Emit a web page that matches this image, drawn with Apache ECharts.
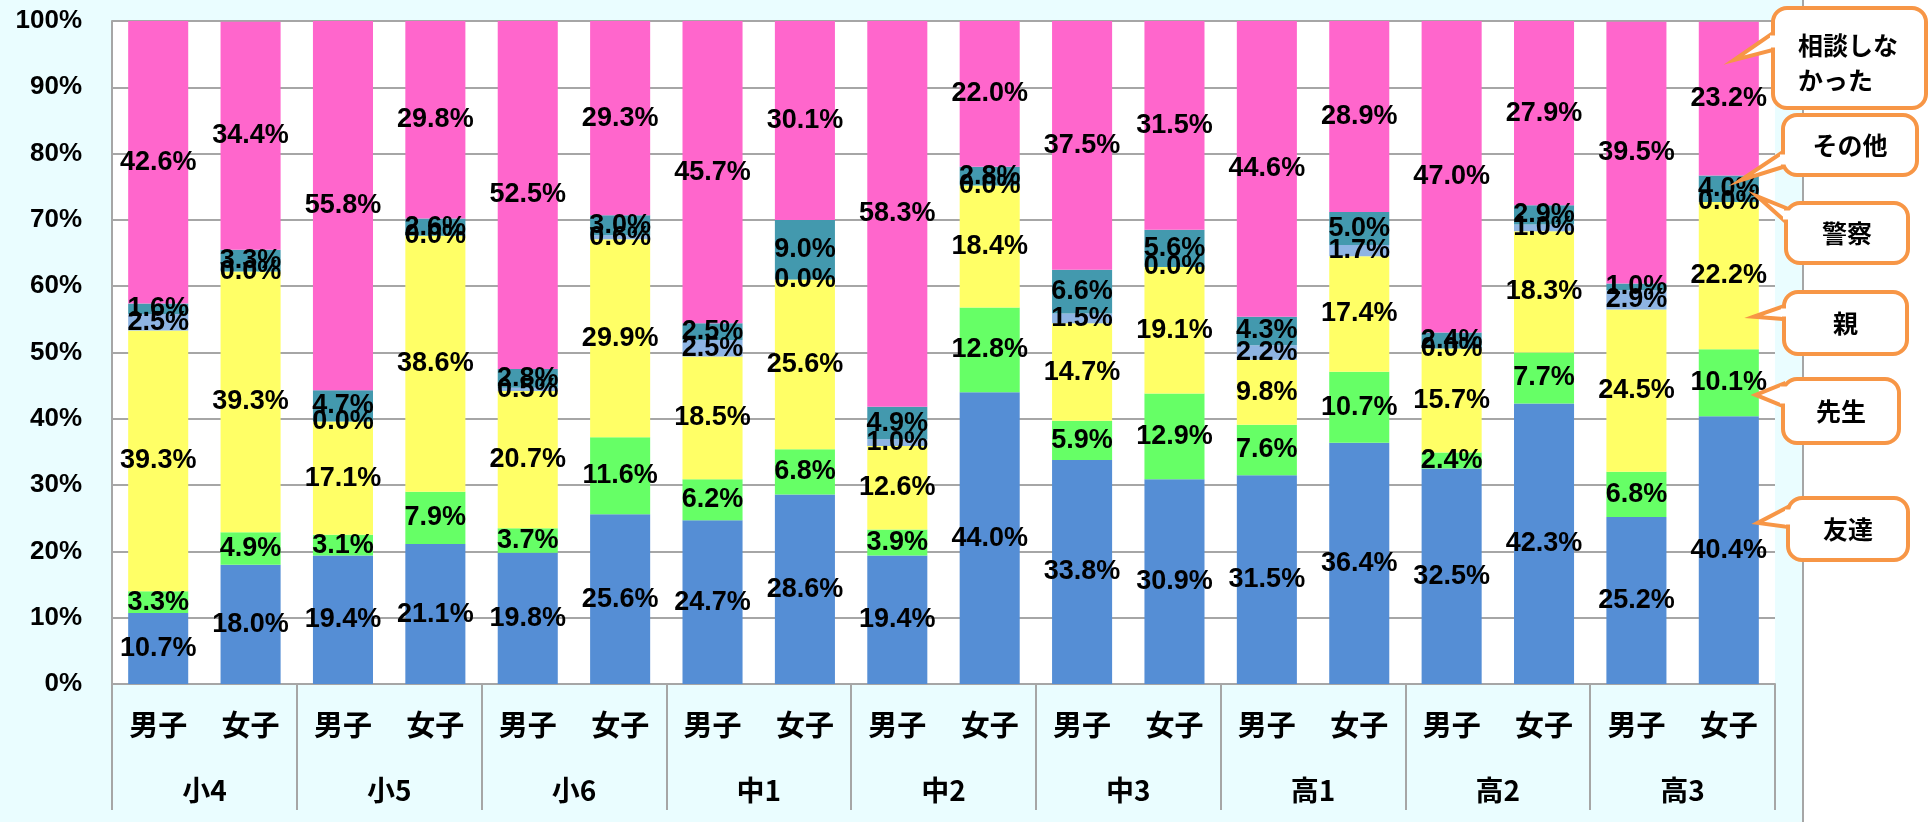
<!DOCTYPE html>
<html><head><meta charset="utf-8">
<script src="https://cdn.jsdelivr.net/npm/echarts@6/dist/echarts.min.js"></script>
<style>
html,body{margin:0;padding:0;background:#fff;}
#c{width:1930px;height:822px;background:linear-gradient(to right,#EAFDFF 0,#EAFDFF 1802px,#A6A6A6 1802px,#A6A6A6 1804px,#fff 1804px);}
</style></head><body><div id="c"></div>
<script>
// ---- data ----
const categories = ['男子','女子','男子','女子','男子','女子','男子','女子','男子','女子','男子','女子','男子','女子','男子','女子','男子','女子'];
const groups = ['小4','小5','小6','中1','中2','中3','高1','高2','高3'];
const yTicks = [0,10,20,30,40,50,60,70,80,90,100];
const seriesNames = ['友達','先生','親','警察','その他','相談しなかった'];
const friends  = [10.7,18.0,19.4,21.1,19.8,25.6,24.7,28.6,19.4,44.0,33.8,30.9,31.5,36.4,32.5,42.3,25.2,40.4];
const teachers = [3.3,4.9,3.1,7.9,3.7,11.6,6.2,6.8,3.9,12.8,5.9,12.9,7.6,10.7,2.4,7.7,6.8,10.1];
const parents  = [39.3,39.3,17.1,38.6,20.7,29.9,18.5,25.6,12.6,18.4,14.7,19.1,9.8,17.4,15.7,18.3,24.5,22.2];
const police   = [2.5,0.0,0.0,0.0,0.5,0.6,2.5,0.0,1.0,0.0,1.5,0.0,2.2,1.7,0.0,1.0,2.9,0.0];
const others   = [1.6,3.3,4.7,2.6,2.8,3.0,2.5,9.0,4.9,2.8,6.6,5.6,4.3,5.0,2.4,2.9,1.0,4.0];
const noConsult= [42.6,34.4,55.8,29.8,52.5,29.3,45.7,30.1,58.3,22.0,37.5,31.5,44.6,28.9,47.0,27.9,39.5,23.2];

// ---- style ----
const colors = ['#558ED5','#66FF66','#FFFF66','#8EB4E3','#4399AE','#FF66CC'];
const gridColor = '#A6A6A6';
const numFont = 'Liberation Sans';
const cjkFont = 'Noto Sans CJK JP';

const chart = echarts.init(document.getElementById('c'), null, {renderer:'canvas'});
const allData = [friends, teachers, parents, police, others, noConsult];

const series = seriesNames.map((n,i)=>({
  name:n, type:'bar', stack:'total', data:allData[i],
  barCategoryGap:'35%',
  itemStyle:{color:colors[i]},
  label:{show:true, position:'inside', formatter:p=>p.value.toFixed(1)+'%',
    color:'#000', fontFamily:numFont, fontWeight:'bold', fontSize:27},
  emphasis:{disabled:true}
}));

chart.setOption({
  animation:false,
  backgroundColor:'transparent',
  grid:{left:112, right:155, top:21, bottom:138, show:true, backgroundColor:'#fff', borderWidth:0},
  xAxis:[
    {type:'category', data:categories, gridIndex:0,
     axisLine:{show:true, lineStyle:{color:gridColor, width:2}},
     axisTick:{show:false},
     axisLabel:{interval:0, margin:26, color:'#000', fontFamily:cjkFont, fontWeight:'bold', fontSize:29}},
    {type:'category', data:groups, gridIndex:0, position:'bottom',
     axisLine:{show:false},
     axisTick:{show:true, interval:0, length:126, lineStyle:{color:gridColor, width:2}},
     axisLabel:{interval:0, margin:92, color:'#000', fontFamily:cjkFont, fontWeight:'bold', fontSize:28}}
  ],
  yAxis:{type:'value', min:yTicks[0], max:yTicks[yTicks.length-1], interval:yTicks[1]-yTicks[0],
    axisLine:{show:true, lineStyle:{color:gridColor, width:2}},
    axisTick:{show:false},
    splitLine:{show:true, lineStyle:{color:gridColor, width:2}},
    axisLabel:{formatter:'{value}%', margin:30, color:'#000', fontFamily:numFont, fontWeight:'bold', fontSize:26}},
  series:series
});

// ---- callouts (legend-like annotations pointing at the last bar) ----
const lastIdx = categories.length-1;
const callouts = [
  {lines:['相談しな','かった'], box:[1773,8,1926,108], base:[33,50], tipV:94.1, dx:5, left:true},
  {lines:['その他'], box:[1783,115,1917,175], base:[152,167], tipV:76.0, dx:12},
  {lines:['警察'], box:[1786,203,1908,263], base:[208,222], tipV:73.5, dx:29},
  {lines:['親'], box:[1784,292,1907,354], base:[306,319], tipV:55.4, dx:25},
  {lines:['先生'], box:[1783,379,1899,443], base:[384,406], tipV:43.6, dx:27},
  {lines:['友達'], box:[1788,498,1908,560], base:[507,527], tipV:24.3, dx:29}
];
const orange = '#F79646';
const graphics = [];
callouts.forEach((c,ci)=>{
  const p = chart.convertToPixel({xAxisIndex:0, yAxisIndex:0}, [lastIdx, c.tipV]);
  const [x0,y0,x1,y1]=c.box;
  const zb = 100 + ci*5;
  graphics.push({type:'rect', z:zb, shape:{x:x0,y:y0,width:x1-x0,height:y1-y0,r:14},
    style:{fill:'#fff', stroke:orange, lineWidth:4}});
  graphics.push({type:'polygon', z:zb+1, shape:{points:[[p[0]+c.dx,p[1]],[x0,c.base[0]],[x0,c.base[1]]]},
    style:{fill:'#fff', stroke:orange, lineWidth:4, lineJoin:'miter'}});
  graphics.push({type:'rect', z:zb+2, shape:{x:x0-3,y:c.base[0]+2.5,width:7,height:c.base[1]-c.base[0]-5},
    style:{fill:'#fff'}});
  if(c.left){
    c.lines.forEach((t,k)=>{
      graphics.push({type:'text', z:zb+3, x:x0+25, y:45+k*35,
        style:{text:t, fill:'#000', fontFamily:cjkFont, fontWeight:'bold', fontSize:25,
          textAlign:'left', textVerticalAlign:'middle', align:'left', verticalAlign:'middle'}});
    });
  } else {
    graphics.push({type:'text', z:zb+3, x:(x0+x1)/2, y:(y0+y1)/2,
      style:{text:c.lines[0], fill:'#000', fontFamily:cjkFont, fontWeight:'bold', fontSize:25,
        textAlign:'center', textVerticalAlign:'middle', align:'center', verticalAlign:'middle'}});
  }
});
chart.setOption({graphic:graphics});
</script></body></html>
